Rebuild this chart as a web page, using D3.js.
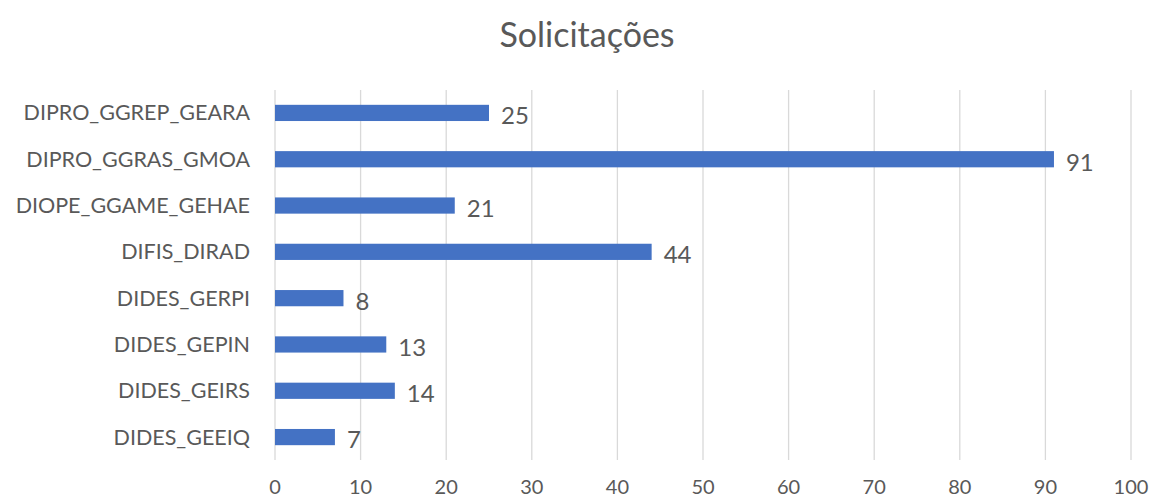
<!DOCTYPE html>
<html>
<head>
<meta charset="utf-8">
<script src="https://cdn.jsdelivr.net/npm/d3@7"></script>
<style>
  body { margin: 0; background: #fff; }
  svg text { font-family: Lato, "Open Sans", sans-serif; fill: #595959; }
</style>
</head>
<body>
<div id="chart"></div>
<script>
// categories top to bottom, as in the picture
const categories = [
  "DIPRO_GGREP_GEARA",
  "DIPRO_GGRAS_GMOA",
  "DIOPE_GGAME_GEHAE",
  "DIFIS_DIRAD",
  "DIDES_GERPI",
  "DIDES_GEPIN",
  "DIDES_GEIRS",
  "DIDES_GEEIQ"
];
const values = [25, 91, 21, 44, 8, 13, 14, 7];
const xTicks = [0, 10, 20, 30, 40, 50, 60, 70, 80, 90, 100];

const width = 1151;
const height = 501;
const margin = { top: 90, right: 20, bottom: 41, left: 275 };

const svg = d3
  .select("#chart")
  .append("svg")
  .attr("width", width)
  .attr("height", height);

const x = d3.scaleLinear().domain([0, 100]).range([margin.left, 1131]);
const y = d3
  .scaleBand()
  .domain(categories)
  .range([margin.top, height - margin.bottom])
  .paddingInner(0.65)
  .paddingOuter(0.32);

// title
svg
  .append("text")
  .attr("x", 587)
  .attr("y", 47)
  .attr("text-anchor", "middle")
  .style("font-size", "34px")
  .text("Solicitações");

// gridlines
svg
  .append("g")
  .selectAll("line")
  .data(xTicks)
  .enter()
  .append("line")
  .attr("x1", d => x(d))
  .attr("x2", d => x(d))
  .attr("y1", margin.top)
  .attr("y2", height - margin.bottom)
  .style("stroke", "#d9d9d9")
  .style("stroke-width", 1.3);

// x tick labels
svg
  .append("g")
  .selectAll("text")
  .data(xTicks)
  .enter()
  .append("text")
  .attr("x", d => x(d))
  .attr("y", 494)
  .attr("text-anchor", "middle")
  .style("font-size", "20px")
  .text(d => d);

// category labels
svg
  .append("g")
  .selectAll("text")
  .data(categories)
  .enter()
  .append("text")
  .attr("x", 250)
  .attr("y", d => y(d) + y.bandwidth() / 2)
  .attr("dy", "0.35em")
  .attr("text-anchor", "end")
  .style("font-size", "21.5px")
  .text(d => d);

// bars
svg
  .append("g")
  .selectAll("rect")
  .data(values)
  .enter()
  .append("rect")
  .attr("x", x(0))
  .attr("y", (d, i) => y(categories[i]))
  .attr("width", d => x(d) - x(0))
  .attr("height", y.bandwidth())
  .style("fill", "#4472c4");

// value labels
svg
  .append("g")
  .selectAll("text")
  .data(values)
  .enter()
  .append("text")
  .attr("x", d => x(d) + 12)
  .attr("y", (d, i) => y(categories[i]) + y.bandwidth() / 2 + 3)
  .attr("dy", "0.35em")
  .style("font-size", "24px")
  .text(d => d);
</script>
</body>
</html>
